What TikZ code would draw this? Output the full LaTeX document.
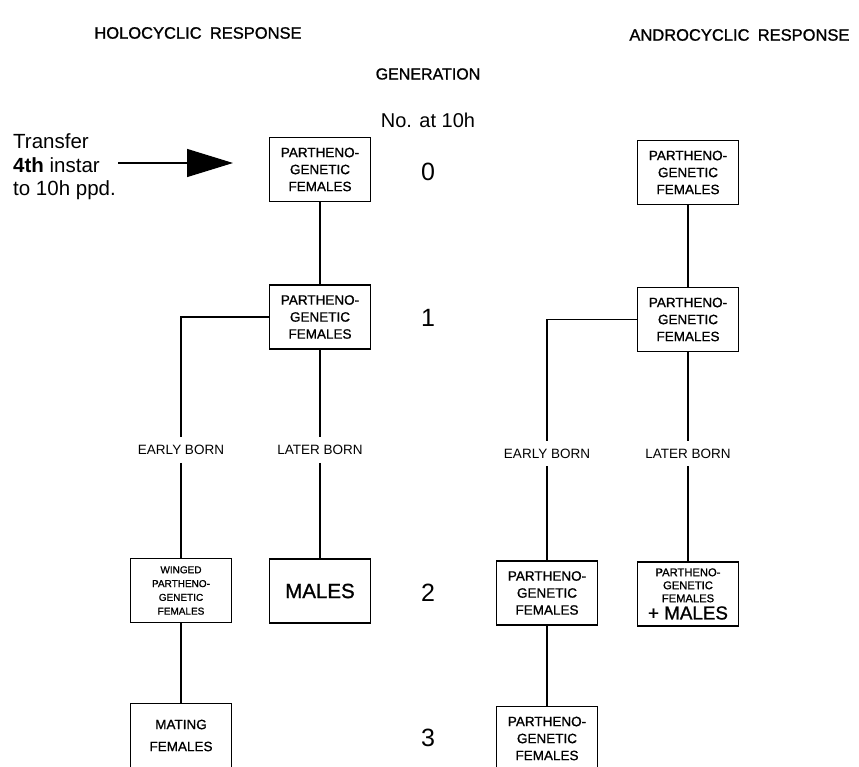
\documentclass[tikz,border=0pt]{standalone}
\usepackage{fontspec}
\setmainfont{Liberation Sans}
\newfontfamily\medio[FakeBold=1.1]{Liberation Sans}
\usetikzlibrary{arrows.meta}

\tikzstyle{morph}= [rectangle,draw,black,line width=1.3pt,minimum width=101pt,minimum height=64pt,inner sep=0pt,align=center,font=\medio\fontsize{13.5}{17}\selectfont]
\tikzstyle{born}= [inner sep=8pt,font=\fontsize{13.5}{16}\selectfont]
\tikzstyle{gen}= [font=\fontsize{25}{30}\selectfont]
\tikzstyle{titulo}= [font=\medio\fontsize{16.5}{20}\selectfont]
\tikzstyle{linea}= [black,line width=1.3pt]

\begin{document}
\begin{tikzpicture}[x=1pt,y=-1pt]

		\useasboundingbox (0,0) rectangle (859,767);
		\clip (0,0) rectangle (859,767);

		\node (holo) at (198,33) [titulo] {HOLOCYCLIC\hspace{0.5em}RESPONSE};
		\node (andro) at (853,35) [titulo,anchor=east] {ANDROCYCLIC\hspace{0.5em}RESPONSE};
		\node (generacion) at (428,74) [font=\medio\fontsize{16}{19}\selectfont] {GENERATION};
		\node (numero) at (428,120) [font=\fontsize{20}{24}\selectfont] {No. at 10h};

		\node (xfer) at (13,167) [anchor=west,align=left,inner sep=0pt,font=\fontsize{20.5}{23.5}\selectfont] {Transfer\\\textbf{4th} instar\\to 10h ppd.};
		\coordinate (cola) at (118,163);
		\coordinate (punta) at (233,163);

		% holocyclic side
		\node (p0) at (320,169.5) [morph] {PARTHENO-\\GENETIC\\FEMALES};
		\node (p1) at (320,317) [morph] {PARTHENO-\\GENETIC\\FEMALES};
		\node (eb) at (181,450) [born] {EARLY BORN};
		\node (lb) at (320,450) [born] {LATER BORN};
		\node (w2) at (181,590.5) [morph,font=\medio\fontsize{10}{13.8}\selectfont] {WINGED\\PARTHENO-\\GENETIC\\FEMALES};
		\node (m2) at (320,591) [morph,font=\medio\fontsize{20.5}{24}\selectfont] {MALES};
		\node (m3) at (181,735.5) [morph,font=\medio\fontsize{13.5}{22}\selectfont] {MATING\\FEMALES};

		% generation numbers
		\node (n0) at (428,172) [gen] {0};
		\node (n1) at (428,318) [gen] {1};
		\node (n2) at (428,593) [gen] {2};
		\node (n3) at (428,738) [gen] {3};

		% androcyclic side
		\node (q0) at (688,172.5) [morph] {PARTHENO-\\GENETIC\\FEMALES};
		\node (q1) at (688,319.5) [morph] {PARTHENO-\\GENETIC\\FEMALES};
		\node (eb2) at (547,453.5) [born] {EARLY BORN};
		\node (lb2) at (688,453.5) [born] {LATER BORN};
		\node (q2) at (547,593) [morph] {PARTHENO-\\GENETIC\\FEMALES};
		\node (pm2) at (688,594) [morph,font=\medio\fontsize{11.2}{13}\selectfont] {PARTHENO-\\GENETIC\\FEMALES\\[3pt]{\fontsize{18.8}{20}\selectfont + MALES}};
		\node (q3) at (547,738.5) [morph] {PARTHENO-\\GENETIC\\FEMALES};

		\draw[linea,-{Triangle[length=46pt,width=28pt]}] (cola) -- (punta);

		\path[linea] (p0) edge[] (p1);
		\draw[linea] (p1.west) -| (eb.north);
		\path[linea] (p1) edge[] (lb);
		\path[linea] (eb) edge[] (w2);
		\path[linea] (lb) edge[] (m2);
		\path[linea] (w2) edge[] (m3);

		\path[linea] (q0) edge[] (q1);
		\draw[linea] (q1.west) -| (eb2.north);
		\path[linea] (q1) edge[] (lb2);
		\path[linea] (eb2) edge[] (q2);
		\path[linea] (lb2) edge[] (pm2);
		\path[linea] (q2) edge[] (q3);

\end{tikzpicture}
\end{document}
